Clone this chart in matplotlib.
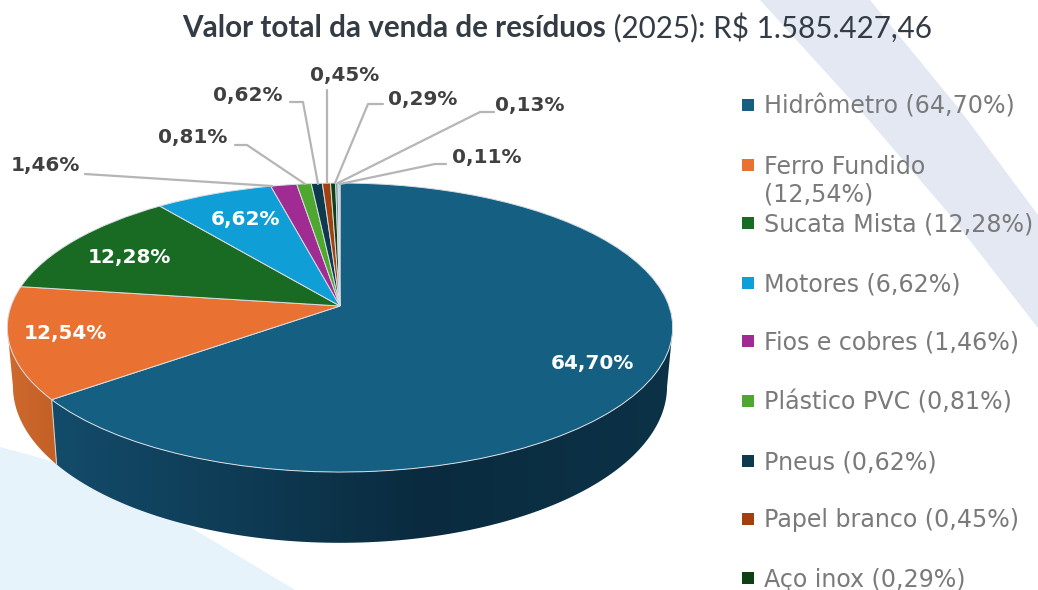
import numpy as np
import matplotlib
matplotlib.use("Agg")
import matplotlib.pyplot as plt
from matplotlib import transforms as mtrans
from matplotlib.colors import to_rgb
from matplotlib.patches import Polygon

categories = ["Hidrômetro", "Ferro Fundido", "Sucata Mista", "Motores", "Fios e cobres",
              "Plástico PVC", "Pneus", "Papel branco", "Aço inox", "Outros A", "Outros B"]
values = [64.70, 12.54, 12.28, 6.62, 1.46, 0.81, 0.62, 0.45, 0.29, 0.13, 0.11]
value_labels = ["64,70%", "12,54%", "12,28%", "6,62%", "1,46%", "0,81%", "0,62%",
                "0,45%", "0,29%", "0,13%", "0,11%"]
colors = ["#156082", "#e97132", "#196b24", "#0f9ed5", "#a02b93", "#4ea72e",
          "#0d3a4e", "#a3400f", "#0e4015", "#5f8da3", "#c9ced6"]
legend_labels = ["Hidrômetro (64,70%)", "Ferro Fundido\n(12,54%)", "Sucata Mista (12,28%)",
                 "Motores (6,62%)", "Fios e cobres (1,46%)", "Plástico PVC (0,81%)",
                 "Pneus (0,62%)", "Papel branco (0,45%)", "Aço inox (0,29%)"]

CX, CY, A, B, K = 340.0, 306.0, 141.3, 329.0, 0.149


class Tilt(mtrans.Transform):
    input_dims = output_dims = 2
    is_separable = False
    has_inverse = False

    def transform_non_affine(self, pts):
        pts = np.asarray(pts, float)
        w = 1 + K * pts[:, 1]
        return np.column_stack([CX + B * pts[:, 0] / w, CY - A * pts[:, 1] / w])


def lower_rim(xy):
    return np.column_stack([CX + (xy[:, 0] - CX) * 0.983, CY + (xy[:, 1] - CY) * 1.083 + 57])


tilt = Tilt()
fig = plt.figure(figsize=(10.38, 5.90), dpi=100, facecolor="white")
ax = fig.add_axes([0, 0, 1, 1])

# background shapes
ax.add_patch(Polygon([(760, 0), (870, 0), (960, 110), (1038, 215), (1038, 328), (950, 215), (860, 110)],
                     fc="#e3e8f3", ec="none", zorder=0))
ax.add_patch(Polygon([(0, 447), (30, 455), (57, 463), (95, 478), (130, 495), (165, 513), (200, 533),
                      (250, 563), (295, 590), (0, 590)],
                     fc="#e6f3fa", ec="none", zorder=0))

# top of the pie
wedges, _ = ax.pie(values, colors=colors, startangle=90, counterclock=False, radius=1, frame=True,
                   wedgeprops=dict(edgecolor="#d9dde2", linewidth=0.7, zorder=5))
for w in wedges:
    w.set_transform(tilt + ax.transData)
    w.set_clip_on(False)

# rim of the pie
probe = np.linspace(0, -2 * np.pi, 2000, endpoint=False) + np.pi / 2
probe_xy = tilt.transform(np.column_stack([np.cos(probe), np.sin(probe)]))
th_right = probe[np.argmax(probe_xy[:, 0])]
th_left = probe[np.argmin(probe_xy[:, 0])]
edges = np.pi / 2 - 2 * np.pi * np.cumsum([0] + values) / np.sum(values)
rim_stops = {0: ([50, 420, 673], ["#134c6b", "#0a2b3f", "#0c3247"]),
             1: ([7, 55], ["#d06a2e", "#c26027"])}

for i, (stop_x, stop_c) in rim_stops.items():
    hi, lo = min(edges[i], th_right), max(edges[i + 1], th_left)
    ths = np.linspace(hi, lo, 300)
    xy = tilt.transform(np.column_stack([np.cos(ths), np.sin(ths)]))
    low = lower_rim(xy)
    outline = np.vstack([xy, low[::-1]])
    x0, x1 = outline[:, 0].min(), outline[:, 0].max()
    y0, y1 = outline[:, 1].min(), outline[:, 1].max()
    xs = np.linspace(x0, x1, 400)
    rgb = np.array([to_rgb(c) for c in stop_c])
    grad = np.stack([np.interp(xs, stop_x, rgb[:, k]) for k in range(3)], axis=-1)[None, :, :]
    im = ax.imshow(grad, extent=(x0, x1, y1, y0), aspect="auto", zorder=3, interpolation="bilinear")
    im.set_clip_path(Polygon(outline, transform=ax.transData))
j = tilt.transform(np.array([[np.cos(edges[1]), np.sin(edges[1])]]))
j2 = lower_rim(j)
ax.plot([j[0, 0], j2[0, 0]], [j[0, 1], j2[0, 1]], color="#d9c9bd", lw=0.8, zorder=4)

# inside labels
inside_pos = [(592, 363), (65, 334), (129, 257), (245, 219)]
lab_font = dict(family="DejaVu Sans", weight="bold", fontsize=14.4, ha="center", va="center")
for s, (x, y) in zip(value_labels[:4], inside_pos):
    ax.text(x, y, s, color="white", zorder=7, **lab_font)

# outside labels with leader lines
out_pos = [(45, 166), (193, 138), (248, 95), (345, 76), (423, 99), (530, 106), (487, 158)]
leaders = [[(85, 174), (272, 186)],
           [(235, 145), (247, 145), (305, 184)],
           [(290, 102), (303, 102), (318, 184)],
           [(327, 90), (327, 183)],
           [(383, 104), (368, 104), (335, 183)],
           [(494, 112), (480, 112), (338, 183)],
           [(446, 164), (435, 164), (340, 184)]]
for s, (x, y), ln in zip(value_labels[4:], out_pos, leaders):
    ax.text(x, y, s, color="#404040", zorder=7, **lab_font)
    ax.plot(*zip(*ln), color="#b5b5b5", lw=1.6, zorder=6, solid_capstyle="round")

# legend
leg_y = [105, 165, 223, 283, 341, 401, 461, 519, 578]
ax.scatter([748] * len(leg_y), leg_y, marker="s", s=75, c=colors[:len(leg_y)], linewidths=0, zorder=7)
for s, y in zip(legend_labels, leg_y):
    two = "\n" in s
    ax.text(764, y + 15.5 if two else y + 1.5, s, color="#7a7a7a", family="DejaVu Sans", fontsize=17.1,
            ha="left", va="center", linespacing=1.2, zorder=7)

# title
t1 = ax.text(182, 28, "Valor total da venda de resíduos", family="Lato", weight="bold",
             fontsize=21.3, color="#333b44", ha="left", va="center", zorder=7)
ax.annotate(" (2025): R$ 1.585.427,46", xy=(1, 0.5), xycoords=t1, family="Lato", fontsize=21.3,
            color="#333b44", ha="left", va="center", zorder=7)

ax.set_aspect("auto")
ax.set_xlim(0, 1038)
ax.set_ylim(590, 0)
ax.set_frame_on(False)
ax.set_xticks([])
ax.set_yticks([])
fig.savefig("out.png", dpi=100)
